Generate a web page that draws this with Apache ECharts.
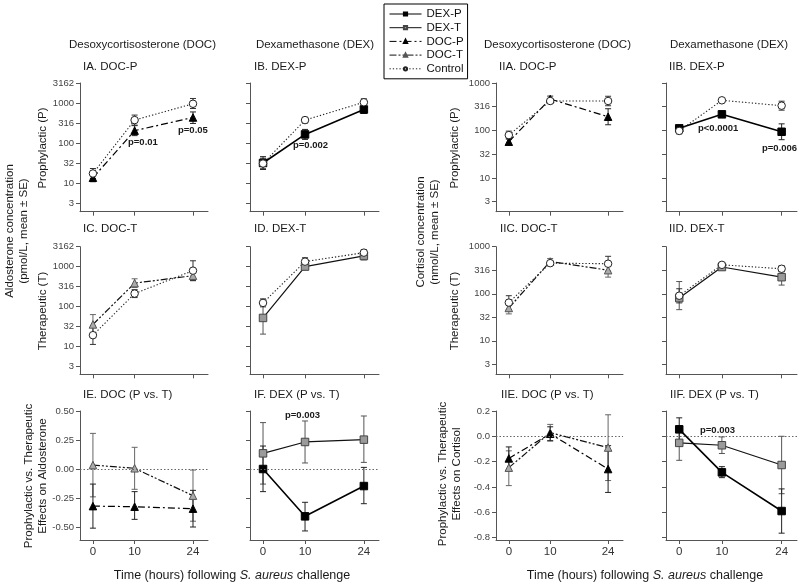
<!DOCTYPE html>
<html><head><meta charset="utf-8">
<script src="https://cdn.jsdelivr.net/npm/echarts@6/dist/echarts.min.js"></script>
<style>html,body{margin:0;padding:0;background:#fff}#c{width:800px;height:586px}</style>
</head><body><div id="c"></div><script>
// ---------- data ----------
const hours = [0, 10, 24];
const legendNames = ['DEX-P', 'DEX-T', 'DOC-P', 'DOC-T', 'Control'];
const logTicksAldo = [3.1623, 10, 31.623, 100, 316.23, 1000, 3162.28];
const logTicksCort = [3.1623, 10, 31.623, 100, 316.23, 1000];
const effTicksAldo = [-0.5, -0.25, 0, 0.25, 0.5];
const effTicksCort = [-0.8, -0.6, -0.4, -0.2, 0, 0.2];

// Aldosterone (pmol/L)
const aIA_docP = [13.7, 205, 436], aIA_docP_lo = [10.9, 154, 310], aIA_docP_hi = [17.3, 273, 600];
const aIA_ctrl = [17.5, 376, 960], aIA_ctrl_lo = [13.1, 282, 730], aIA_ctrl_hi = [23.3, 501, 1300];
const aIB_dexP = [32, 165, 690], aIB_dexP_lo = [22, 124, 550], aIB_dexP_hi = [46, 220, 870];
const aIB_ctrl = [31, 376, 1045], aIB_ctrl_lo = [23, 320, 850], aIB_ctrl_hi = [42, 440, 1280];
const aIC_docT = [35, 383, 590], aIC_docT_lo = [19.7, 297, 442], aIC_docT_hi = [62, 493, 787];
const aIC_ctrl = [18.8, 209, 790], aIC_ctrl_lo = [11, 166, 444], aIC_ctrl_hi = [32, 263, 1400];
const aID_dexT = [51, 1000, 1850], aID_dexT_lo = [20, 840, 1470], aID_dexT_hi = [128, 1190, 2330];
const aID_ctrl = [122, 1330, 2240], aID_ctrl_lo = [97, 1060, 1880], aID_ctrl_hi = [154, 1670, 2660];
// Cortisol (nmol/L)
const cIIA_docP = [58, 460, 195], cIIA_docP_lo = [50, 400, 132], cIIA_docP_hi = [67, 530, 287];
const cIIA_ctrl = [80, 418, 418], cIIA_ctrl_lo = [66, 370, 332], cIIA_ctrl_hi = [97, 472, 526];
const cIIB_dexP = [111, 219, 94], cIIB_dexP_lo = [96, 190, 64], cIIB_dexP_hi = [128, 252, 138];
const cIIB_ctrl = [98, 432, 333], cIIB_ctrl_lo = [85, 395, 268], cIIB_ctrl_hi = [113, 472, 414];
const cIIC_docT = [50, 486, 317], cIIC_docT_lo = [37.4, 420, 226], cIIC_docT_hi = [67, 562, 445];
const cIIC_ctrl = [65, 447, 435], cIIC_ctrl_lo = [46, 400, 302], cIIC_ctrl_hi = [91, 500, 625];
const cIID_dexT = [81, 370, 225], cIID_dexT_lo = [46, 335, 153], cIID_dexT_hi = [182, 410, 331];
const cIID_ctrl = [91, 412, 340], cIID_ctrl_lo = [64, 380, 294], cIID_ctrl_hi = [128, 447, 393];
// Prophylactic vs therapeutic effects
const eIE_docP = [-0.32, -0.325, -0.342], eIE_docP_lo = [-0.51, -0.434, -0.50], eIE_docP_hi = [-0.13, -0.195, -0.184];
const eIE_docT = [0.034, 0.006, -0.23], eIE_docT_lo = [-0.24, -0.175, -0.45], eIE_docT_hi = [0.307, 0.187, -0.009];
const eIF_dexP = [0, -0.408, -0.147], eIF_dexP_lo = [-0.195, -0.534, -0.299], eIF_dexP_hi = [0.198, -0.287, 0.014];
const eIF_dexT = [0.135, 0.233, 0.253], eIF_dexT_lo = [-0.13, 0.052, 0.057], eIF_dexT_hi = [0.40, 0.414, 0.457];
const eIIE_docP = [-0.175, 0.02, -0.259], eIIE_docP_lo = [-0.265, -0.035, -0.444], eIIE_docP_hi = [-0.084, 0.075, -0.074];
const eIIE_docT = [-0.248, 0.029, -0.089], eIIE_docT_lo = [-0.39, -0.037, -0.35], eIIE_docT_hi = [-0.115, 0.094, 0.17];
const eIIF_dexP = [0.055, -0.285, -0.591], eIIF_dexP_lo = [-0.037, -0.327, -0.766], eIIF_dexP_hi = [0.146, -0.24, -0.416];
const eIIF_dexT = [-0.052, -0.071, -0.227], eIIF_dexT_lo = [-0.19, -0.136, -0.454], eIIF_dexT_hi = [0.083, -0.005, 0.0];

// ---------- layout / style ----------
const FF = '"Liberation Sans", Arial, sans-serif';
const axisCol = '#555';
const colLeft = [80, 250, 496, 666], colW = [128, 129, 127, 131];
const rowTop = [83, 246.7, 411], rowH = [128.7, 127.6, 129];

const styles = {
  'DEX-P': {symbol: 'rect', size: 7.5, fill: '#000', border: '#000', line: {color: '#000', width: 1.6, type: 'solid'}, err: '#222'},
  'DEX-T': {symbol: 'rect', size: 7.5, fill: '#9a9a9a', border: '#444', line: {color: '#111', width: 1.2, type: 'solid'}, err: '#555'},
  'DOC-P': {symbol: 'triangle', size: 7.5, fill: '#000', border: '#000', line: {color: '#000', width: 1.2, type: [7, 3, 2, 3]}, err: '#222'},
  'DOC-T': {symbol: 'triangle', size: 7.5, fill: '#aaa', border: '#555', line: {color: '#111', width: 1.2, type: [7, 2, 2, 2, 2, 2]}, err: '#666'},
  'Control': {symbol: 'circle', size: 7.5, fill: '#fff', border: '#222', line: {color: '#222', width: 1.1, type: [1.3, 2]}, err: '#333'}
};

const yKinds = {
  aldo: {type: 'log', min: 1.95, max: 3162.3, ticks: logTicksAldo, fmt: v => String(Math.round(v))},
  cort: {type: 'log', min: 1.95, max: 1000.01, ticks: logTicksCort, fmt: v => String(Math.round(v))},
  aldoEff: {type: 'value', min: -0.612, max: 0.5, ticks: effTicksAldo, fmt: v => (+v).toFixed(2)},
  cortEff: {type: 'value', min: -0.82, max: 0.2, ticks: effTicksCort, fmt: v => (+v).toFixed(1)}
};

const panels = [
  {r: 0, c: 0, kind: 'aldo', s: [['DOC-P', aIA_docP, aIA_docP_lo, aIA_docP_hi], ['Control', aIA_ctrl, aIA_ctrl_lo, aIA_ctrl_hi]]},
  {r: 0, c: 1, kind: 'aldo', s: [['DEX-P', aIB_dexP, aIB_dexP_lo, aIB_dexP_hi], ['Control', aIB_ctrl, aIB_ctrl_lo, aIB_ctrl_hi]]},
  {r: 0, c: 2, kind: 'cort', s: [['DOC-P', cIIA_docP, cIIA_docP_lo, cIIA_docP_hi], ['Control', cIIA_ctrl, cIIA_ctrl_lo, cIIA_ctrl_hi]]},
  {r: 0, c: 3, kind: 'cort', s: [['DEX-P', cIIB_dexP, cIIB_dexP_lo, cIIB_dexP_hi], ['Control', cIIB_ctrl, cIIB_ctrl_lo, cIIB_ctrl_hi]]},
  {r: 1, c: 0, kind: 'aldo', s: [['DOC-T', aIC_docT, aIC_docT_lo, aIC_docT_hi], ['Control', aIC_ctrl, aIC_ctrl_lo, aIC_ctrl_hi]]},
  {r: 1, c: 1, kind: 'aldo', s: [['DEX-T', aID_dexT, aID_dexT_lo, aID_dexT_hi], ['Control', aID_ctrl, aID_ctrl_lo, aID_ctrl_hi]]},
  {r: 1, c: 2, kind: 'cort', s: [['DOC-T', cIIC_docT, cIIC_docT_lo, cIIC_docT_hi], ['Control', cIIC_ctrl, cIIC_ctrl_lo, cIIC_ctrl_hi]]},
  {r: 1, c: 3, kind: 'cort', s: [['DEX-T', cIID_dexT, cIID_dexT_lo, cIID_dexT_hi], ['Control', cIID_ctrl, cIID_ctrl_lo, cIID_ctrl_hi]]},
  {r: 2, c: 0, kind: 'aldoEff', zero: true, s: [['DOC-T', eIE_docT, eIE_docT_lo, eIE_docT_hi], ['DOC-P', eIE_docP, eIE_docP_lo, eIE_docP_hi]]},
  {r: 2, c: 1, kind: 'aldoEff', zero: true, s: [['DEX-T', eIF_dexT, eIF_dexT_lo, eIF_dexT_hi], ['DEX-P', eIF_dexP, eIF_dexP_lo, eIF_dexP_hi]]},
  {r: 2, c: 2, kind: 'cortEff', zero: true, s: [['DOC-T', eIIE_docT, eIIE_docT_lo, eIIE_docT_hi], ['DOC-P', eIIE_docP, eIIE_docP_lo, eIIE_docP_hi]]},
  {r: 2, c: 3, kind: 'cortEff', zero: true, s: [['DEX-T', eIIF_dexT, eIIF_dexT_lo, eIIF_dexT_hi], ['DEX-P', eIIF_dexP, eIIF_dexP_lo, eIIF_dexP_hi]]}
];

function makeErr(color) {
  return function (params, api) {
    const x = api.value(0), lo = api.value(1), hi = api.value(2);
    const p1 = api.coord([x, hi]), p2 = api.coord([x, lo]);
    const w = 3;
    const st = {stroke: color, lineWidth: 1};
    return {type: 'group', children: [
      {type: 'line', shape: {x1: p1[0], y1: p1[1], x2: p2[0], y2: p2[1]}, style: st},
      {type: 'line', shape: {x1: p1[0] - w, y1: p1[1], x2: p1[0] + w, y2: p1[1]}, style: st},
      {type: 'line', shape: {x1: p2[0] - w, y1: p2[1], x2: p2[0] + w, y2: p2[1]}, style: st}
    ]};
  };
}

const grids = [], xAxes = [], yAxes = [], series = [];
panels.forEach((p, i) => {
  grids.push({left: colLeft[p.c], top: rowTop[p.r], width: colW[p.c], height: rowH[p.r]});
  xAxes.push({type: 'value', gridIndex: i, min: -3.1, max: 27.6,
    axisLine: {show: true, onZero: false, lineStyle: {color: axisCol}},
    axisTick: {show: true, length: 4, customValues: hours, lineStyle: {color: axisCol}},
    axisLabel: {show: p.r === 2, customValues: hours, margin: 6, fontSize: 11.5, color: '#333', fontFamily: FF},
    splitLine: {show: false}});
  const yk = yKinds[p.kind];
  yAxes.push({type: yk.type, gridIndex: i, min: yk.min, max: yk.max,
    axisLine: {show: true, onZero: false, lineStyle: {color: axisCol}},
    axisTick: {show: true, length: 4, customValues: yk.ticks, lineStyle: {color: axisCol}},
    axisLabel: {show: p.c === 0 || p.c === 2, customValues: yk.ticks, formatter: yk.fmt, margin: 6, fontSize: 9.5, color: '#444', fontFamily: FF},
    splitLine: {show: false}});
  p.s.forEach(([name, mean, lo, hi], k) => {
    const st = styles[name];
    series.push({type: 'custom', name: name + ' SE', xAxisIndex: i, yAxisIndex: i, z: 2, silent: true,
      data: hours.map((h, j) => [h, lo[j], hi[j]]), encode: {x: 0, y: [1, 2]}, renderItem: makeErr(st.err)});
    const s = {type: 'line', name: name, xAxisIndex: i, yAxisIndex: i, z: 3, silent: true,
      data: hours.map((h, j) => [h, mean[j]]), symbol: st.symbol, symbolSize: st.size, showSymbol: true,
      lineStyle: st.line, itemStyle: {color: st.fill, borderColor: st.border, borderWidth: 1},
      emphasis: {disabled: true}};
    if (k === 0 && p.zero) {
      s.markLine = {silent: true, symbol: 'none', label: {show: false},
        lineStyle: {type: [1.5, 2], color: '#666', width: 1}, data: [{yAxis: 0}]};
    }
    series.push(s);
  });
});

// ---------- text ----------
const g = [];
function txt(x, y, text, o) {
  o = o || {};
  const style = {text: text, fontSize: o.size || 11.5, fontFamily: FF, fontWeight: o.bold ? 'bold' : 'normal',
    fill: o.color || '#1a1a1a', align: o.align || 'left', verticalAlign: 'middle',
    textAlign: o.align || 'left', textVerticalAlign: 'middle'};
  if (o.lh) style.lineHeight = o.lh;
  if (o.rich) style.rich = o.rich;
  g.push({type: 'text', x: x, y: y, rotation: o.rot || 0, silent: true, style: style});
}
const R = Math.PI / 2;
// column headers
txt(142.5, 45, 'Desoxycortisosterone (DOC)', {align: 'center'});
txt(315, 45, 'Dexamethasone (DEX)', {align: 'center'});
txt(557.5, 45, 'Desoxycortisosterone (DOC)', {align: 'center'});
txt(729, 45, 'Dexamethasone (DEX)', {align: 'center'});
// panel labels
txt(83, 67, 'IA. DOC-P'); txt(254, 67, 'IB. DEX-P'); txt(499, 67, 'IIA. DOC-P'); txt(669, 67, 'IIB. DEX-P');
txt(83, 229, 'IC. DOC-T'); txt(254, 229, 'ID. DEX-T'); txt(500, 229, 'IIC. DOC-T'); txt(669, 229, 'IID. DEX-T');
txt(83, 395, 'IE. DOC (P vs. T)'); txt(254, 395, 'IF. DEX (P vs. T)'); txt(501, 395, 'IIE. DOC (P vs. T)'); txt(670, 395, 'IIF. DEX (P vs. T)');
// y names
txt(43, 148, 'Prophylactic (P)', {align: 'center', rot: R});
txt(43, 311, 'Therapeutic (T)', {align: 'center', rot: R});
txt(36, 476, 'Prophylactic vs. Therapeutic\nEffects on Aldosterone', {align: 'center', rot: R, lh: 14});
txt(455, 148, 'Prophylactic (P)', {align: 'center', rot: R});
txt(455, 311, 'Therapeutic (T)', {align: 'center', rot: R});
txt(450, 474, 'Prophylactic vs. Therapeutic\nEffects on Cortisol', {align: 'center', rot: R, lh: 14});
txt(17, 231, 'Aldosterone concentration\n(pmol/L, mean \u00b1 SE)', {align: 'center', rot: R, lh: 14});
txt(428, 232, 'Cortisol concentration\n(nmol/L, mean \u00b1 SE)', {align: 'center', rot: R, lh: 14});
// x titles
const richI = {i: {fontStyle: 'italic', fontSize: 12.5, fontFamily: FF, fill: '#1a1a1a'}};
txt(232, 576, 'Time (hours) following {i|S. aureus} challenge', {align: 'center', size: 12.5, rich: richI});
txt(645, 576, 'Time (hours) following {i|S. aureus} challenge', {align: 'center', size: 12.5, rich: richI});
// p values
const pv = {bold: true, size: 9.5};
txt(128, 142, 'p=0.01', pv); txt(178, 130, 'p=0.05', pv); txt(293, 145, 'p=0.002', pv);
txt(698, 128, 'p<0.0001', pv); txt(762, 148, 'p=0.006', pv);
txt(285, 415, 'p=0.003', pv); txt(700, 430, 'p=0.003', pv);

const chart = echarts.init(document.getElementById('c'), null, {renderer: 'canvas'});
chart.setOption({
  animation: false,
  backgroundColor: '#fff',
  legend: {data: legendNames, orient: 'vertical', left: 384, top: 4, itemWidth: 32, itemHeight: 4, itemGap: 1.7,
    padding: [4, 4, 4, 5], borderColor: '#000', borderWidth: 1, selectedMode: false,
    lineStyle: {width: 1},
    textStyle: {fontSize: 11.5, fontFamily: FF, color: '#111', lineHeight: 11}},
  grid: grids, xAxis: xAxes, yAxis: yAxes, series: series, graphic: g
});
</script></body></html>
